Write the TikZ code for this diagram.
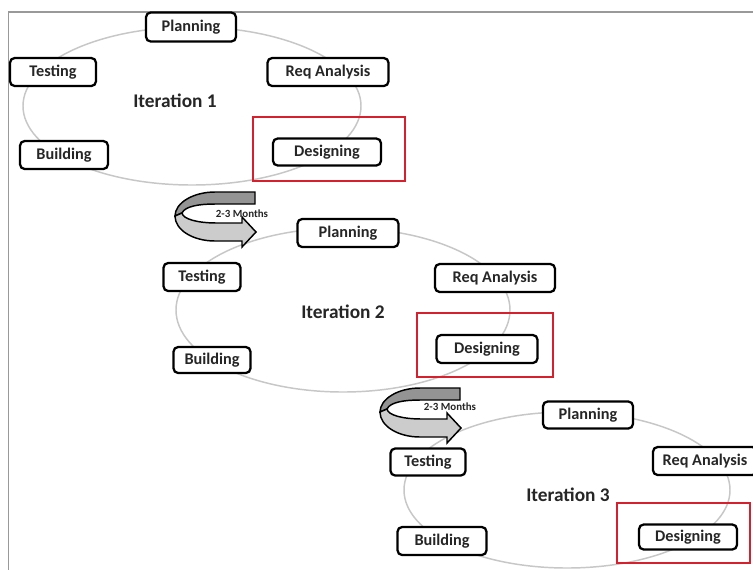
\documentclass[tikz,border=0pt]{standalone}
\usepackage{fontspec}
\setmainfont{Carlito}
\begin{document}
\begin{tikzpicture}[x=0.75pt,y=-0.75pt,
  stage/.style={draw=black, line width=1.7pt, rounded corners=3.5pt, fill=white,
    inner sep=0pt, minimum height=21pt, text=black!85,
    font=\fontsize{12.2}{14}\selectfont\bfseries},
  bw/.style={minimum width=#1*0.75pt},
  bh/.style={minimum height=#1*0.75pt},
  iter/.style={inner sep=0pt, text=black!85, font=\fontsize{14.5}{16}\selectfont\bfseries},
  ring/.style={draw=black!22, line width=1.1pt},
  redbox/.style={draw={rgb,255:red,214;green,32;blue,45}, line width=2.2pt, inner sep=0pt},
  backband/.style={draw=black, line width=1.1pt, fill=black!42},
  frontband/.style={draw=black, line width=1.1pt, fill=black!20},
  months/.style={inner sep=0pt, text=black!85, font=\fontsize{8.2}{9}\selectfont\bfseries},
  curvedarrow/.pic={
    \path[backband] (0,0) -- (-40,0) .. controls (-62,0) and (-80,11) .. (-80,24)
      -- (-73,21) .. controls (-70,14) and (-55,12) .. (-40,12) -- (0,12) -- cycle;
    \path[frontband] (-80,24) .. controls (-80,38) and (-62,49) .. (-40,49)
      -- (-13,49) -- (-13,55) -- (1,40) -- (-13,25) -- (-13,31) -- (-38,31)
      .. controls (-58,31) and (-72,27) .. (-73,21) -- cycle;
  }]
\useasboundingbox (0,0) rectangle (753,569);
\clip (0,0) rectangle (753,569);
\fill[white] (0,0) rectangle (753,569);
% frame
\draw[black!40, line width=1.1pt] (8.5,580) -- (8.5,12) -- (760,12);
% rings
\draw[ring] (192,106) ellipse [x radius=169*0.75pt, y radius=79*0.75pt];
\draw[ring] (343,310) ellipse [x radius=167*0.75pt, y radius=82*0.75pt];
\draw[ring] (567,490) ellipse [x radius=163*0.75pt, y radius=78*0.75pt];
% iteration 1
\node[stage, bw=90, bh=29] (p1) at (191,27) {Planning};
\node[stage, bw=86] (t1) at (53,72) {Testing};
\node[stage, bw=121] (r1) at (328,72) {Req Analysis};
\node[iter] (i1) at (175,101) {Iteration 1};
\node[stage, bw=88] (b1) at (64,155) {Building};
\node[stage, bw=108, bh=27] (d1) at (327,152) {Designing};
\node[redbox, bw=152, bh=64] (h1) at (329,149) {};
% arrow 1
\pic (a1) at (255,192) {curvedarrow};
\node[months] (m1) at (242,214) {2-3 Months};
% iteration 2
\node[stage, bw=101] (p2) at (348,233) {Planning};
\node[stage, bw=77] (t2) at (202,277) {Testing};
\node[stage, bw=120] (r2) at (495,278) {Req Analysis};
\node[iter] (i2) at (343,312) {Iteration 2};
\node[stage, bw=77, bh=26] (b2) at (212,360) {Building};
\node[stage, bw=101] (d2) at (487,349) {Designing};
\node[redbox, bw=136, bh=64] (h2) at (485,345) {};
% arrow 2
\pic (a2) at (460,388) {curvedarrow};
\node[months] (m2) at (450,407) {2-3 Months};
% iteration 3
\node[stage, bw=90, bh=27] (p3) at (588,415) {Planning};
\node[stage, bw=75, bh=27] (t3) at (428,462) {Testing};
\node[stage, bw=104] (r3) at (705,461) {Req Analysis};
\node[iter] (i3) at (568,495) {Iteration 3};
\node[stage, bw=89] (b3) at (442,541) {Building};
\node[stage, bw=98, bh=25] (d3) at (688,537) {Designing};
\node[redbox, bw=133, bh=60] (h3) at (683.5,533) {};
\end{tikzpicture}
\end{document}
